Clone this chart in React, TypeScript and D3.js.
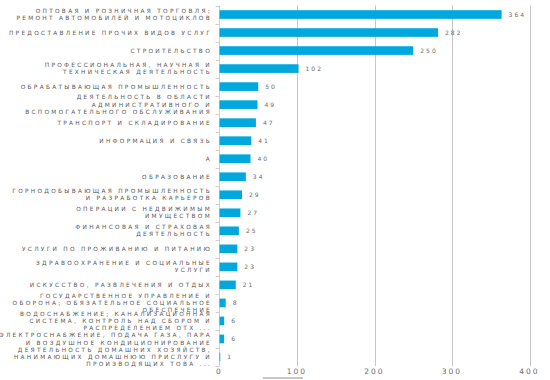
import React from "react";
import * as d3 from "d3";

const categories: string[][] = [
  ["ОПТОВАЯ И РОЗНИЧНАЯ ТОРГОВЛЯ;", "РЕМОНТ АВТОМОБИЛЕЙ И МОТОЦИКЛОВ"],
  ["ПРЕДОСТАВЛЕНИЕ ПРОЧИХ ВИДОВ УСЛУГ"],
  ["СТРОИТЕЛЬСТВО"],
  ["ПРОФЕССИОНАЛЬНАЯ, НАУЧНАЯ И", "ТЕХНИЧЕСКАЯ ДЕЯТЕЛЬНОСТЬ"],
  ["ОБРАБАТЫВАЮЩАЯ ПРОМЫШЛЕННОСТЬ"],
  ["ДЕЯТЕЛЬНОСТЬ В ОБЛАСТИ", "АДМИНИСТРАТИВНОГО И", "ВСПОМОГАТЕЛЬНОГО ОБСЛУЖИВАНИЯ"],
  ["ТРАНСПОРТ И СКЛАДИРОВАНИЕ"],
  ["ИНФОРМАЦИЯ И СВЯЗЬ"],
  ["А"],
  ["ОБРАЗОВАНИЕ"],
  ["ГОРНОДОБЫВАЮЩАЯ ПРОМЫШЛЕННОСТЬ", "И РАЗРАБОТКА КАРЬЕРОВ"],
  ["ОПЕРАЦИИ С НЕДВИЖИМЫМ", "ИМУЩЕСТВОМ"],
  ["ФИНАНСОВАЯ И СТРАХОВАЯ", "ДЕЯТЕЛЬНОСТЬ"],
  ["УСЛУГИ ПО ПРОЖИВАНИЮ И ПИТАНИЮ"],
  ["ЗДРАВООХРАНЕНИЕ И СОЦИАЛЬНЫЕ", "УСЛУГИ"],
  ["ИСКУССТВО, РАЗВЛЕЧЕНИЯ И ОТДЫХ"],
  ["ГОСУДАРСТВЕННОЕ УПРАВЛЕНИЕ И", "ОБОРОНА; ОБЯЗАТЕЛЬНОЕ СОЦИАЛЬНОЕ", "ОБЕСПЕЧЕНИЕ"],
  ["ВОДОСНАБЖЕНИЕ; КАНАЛИЗАЦИОННАЯ", "СИСТЕМА, КОНТРОЛЬ НАД СБОРОМ И", "РАСПРЕДЕЛЕНИЕМ ОТХ ..."],
  ["ЭЛЕКТРОСНАБЖЕНИЕ, ПОДАЧА ГАЗА, ПАРА", "И ВОЗДУШНОЕ КОНДИЦИОНИРОВАНИЕ"],
  ["ДЕЯТЕЛЬНОСТЬ ДОМАШНИХ ХОЗЯЙСТВ,", "НАНИМАЮЩИХ ДОМАШНЮЮ ПРИСЛУГУ И", "ПРОИЗВОДЯЩИХ ТОВА ..."],
];
const values: number[] = [364, 282, 250, 102, 50, 49, 47, 41, 40, 34, 29, 27, 25, 23, 23, 21, 8, 6, 6, 1];
const xTicks: number[] = [0, 100, 200, 300, 400];

const W = 550;
const H = 380;
const margin = { left: 219.5, right: 20, top: 5.5, bottom: 14 };
const FONT = "'DejaVu Sans', sans-serif";
const BAR = "#00A8DE";

export default function App() {
  const idx = categories.map((_, i) => i);
  const x = d3.scaleLinear().domain([0, 400]).range([margin.left, 529.5]);
  const y = d3
    .scaleBand<number>()
    .domain(idx)
    .range([margin.top, 366])
    .paddingInner(0.52)
    .paddingOuter(0.26);
  const step = y.step();
  const lineH = 7.2;

  return (
    <svg width={W} height={H} style={{ position: "absolute", left: 0, top: 0, background: "#fff" }}>
      {/* gridlines */}
      {xTicks.slice(1).map((t) => (
        <line key={t} x1={Math.round(x(t)) + 0.5} x2={Math.round(x(t)) + 0.5} y1={margin.top} y2={366} stroke="#c6c6c6" strokeWidth={1} />
      ))}
      {/* y axis line */}
      <line x1={margin.left} x2={margin.left} y1={margin.top} y2={366} stroke="#d0d0d0" strokeWidth={1} />
      {/* y ticks at band boundaries */}
      {d3.range(categories.length + 1).map((i) => {
        const yy = Math.round(margin.top + i * step) + 0.5;
        return <line key={i} x1={margin.left - 4} x2={margin.left} y1={yy} y2={yy} stroke="#d0d0d0" strokeWidth={1} />;
      })}
      {/* bars */}
      {values.map((v, i) => (
        <rect key={i} x={x(0)} y={y(i)} width={Math.max(0, x(v) - x(0))} height={y.bandwidth()} fill={BAR} />
      ))}
      {/* value labels */}
      {values.map((v, i) => (
        <text
          key={i}
          x={x(v) + 7}
          y={(y(i) as number) + y.bandwidth() / 2}
          dy="0.35em"
          fontFamily={FONT}
          fontSize={6}
          letterSpacing={2}
          fill="#6b6b6b"
        >
          {v}
        </text>
      ))}
      {/* category labels */}
      {categories.map((lines, i) => {
        const cy = (y(i) as number) + y.bandwidth() / 2;
        const start = cy - ((lines.length - 1) * lineH) / 2;
        return (
          <text key={i} textAnchor="end" fontFamily={FONT} fontSize={5.8} letterSpacing={2.3} fill="#595959">
            {lines.map((l, j) => (
              <tspan key={j} x={212} y={start + j * lineH} dy="0.35em">
                {l}
              </tspan>
            ))}
          </text>
        );
      })}
      {/* x axis labels */}
      {xTicks.map((t) => (
        <text key={t} x={x(t)} y={371} dy="0.35em" textAnchor="middle" fontFamily={FONT} fontSize={7.5} letterSpacing={2} fill="#6b6b6b">
          {t}
        </text>
      ))}
      {/* small bottom bar */}
      <line x1={263} x2={303} y1={378} y2={378} stroke="#b5b5b5" strokeWidth={1.5} />
    </svg>
  );
}
